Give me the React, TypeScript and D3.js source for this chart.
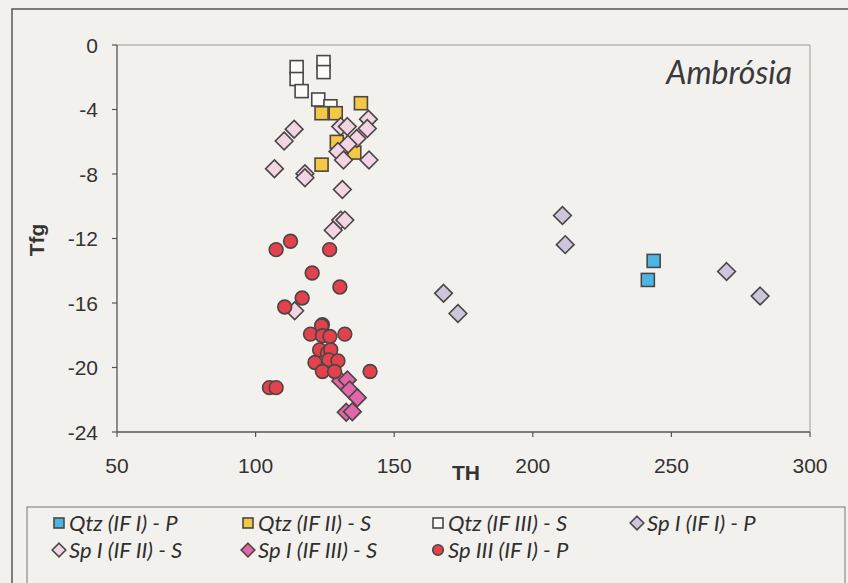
import React from "react";
import * as d3 from "d3";

const W = 848;
const H = 583;

const xTicks = [50, 100, 150, 200, 250, 300];
const yTicks = [0, -4, -8, -12, -16, -20, -24];

const qtzIFI_P: [number, number][] = [[243.6, -13.39], [241.5, -14.57]];
const qtzIFII_S: [number, number][] = [[123.8, -4.23], [128.9, -4.23], [138.0, -3.61], [129.3, -6.01], [135.6, -6.67], [123.8, -7.42]];
const qtzIFIII_S: [number, number][] = [[114.8, -1.37], [114.8, -2.11], [116.6, -2.86], [124.5, -1.06], [124.5, -1.68], [122.6, -3.38], [127.0, -3.8]];
const spIIFI_P: [number, number][] = [[210.7, -10.57], [211.7, -12.38], [167.8, -15.4], [173, -16.65], [269.9, -14.05], [282, -15.57]];
const spIIFII_S: [number, number][] = [[113.9, -5.22], [110.3, -5.95], [106.8, -7.67], [117.8, -7.98], [117.8, -8.23], [131.3, -8.96], [130.7, -5.06], [133.1, -5.06], [140.7, -4.6], [140.3, -5.18], [136.5, -5.8], [133.3, -6.16], [129.7, -6.61], [131.7, -7.13], [140.9, -7.13], [130.7, -10.86], [132.2, -10.86], [128, -11.49], [114.1, -16.48]];
const spIIFIII_S: [number, number][] = [[130.7, -20.83], [133.1, -20.77], [133.9, -21.39], [136.7, -21.87], [132.7, -22.78], [134.9, -22.74]];
const spIIIIFI_P: [number, number][] = [[107.4, -12.69], [112.6, -12.17], [126.7, -12.69], [120.4, -14.14], [130.4, -15.01], [116.8, -15.69], [110.5, -16.25], [124.1, -17.35], [123.8, -17.41], [119.8, -17.93], [124.1, -18.03], [126.8, -18.08], [132.2, -17.93], [123.1, -18.91], [125.9, -19.11], [127.1, -18.9], [121.4, -19.69], [126.4, -19.53], [129.7, -19.59], [124.1, -20.25], [128.5, -20.25], [141.3, -20.25], [105, -21.25], [107.4, -21.25]];

type Shape = "square" | "diamond" | "circle";
interface Series { name: string; data: [number, number][]; shape: Shape; color: string; }

const series: Series[] = [
  { name: "Qtz (IF I) - P", data: qtzIFI_P, shape: "square", color: "#4cb6e2" },
  { name: "Qtz (IF II) - S", data: qtzIFII_S, shape: "square", color: "#f3c843" },
  { name: "Qtz (IF III) - S", data: qtzIFIII_S, shape: "square", color: "#fbfbfa" },
  { name: "Sp I (IF I) - P", data: spIIFI_P, shape: "diamond", color: "#cec4dc" },
  { name: "Sp I (IF II) - S", data: spIIFII_S, shape: "diamond", color: "#f2d4e2" },
  { name: "Sp I (IF III) - S", data: spIIFIII_S, shape: "diamond", color: "#e266a8" },
  { name: "Sp III (IF I) - P", data: spIIIIFI_P, shape: "circle", color: "#e3424c" },
];
const drawOrder = [0, 2, 1, 3, 4, 5, 6];

const STROKE = "#4a4646";

function Marker({ shape, x, y, color, s }: { shape: Shape; x: number; y: number; color: string; s: number }) {
  if (shape === "square") {
    return <rect x={x - s / 2} y={y - s / 2} width={s} height={s} fill={color} stroke={STROKE} strokeWidth={1.6} />;
  }
  if (shape === "diamond") {
    const r = s * 0.68;
    return <path d={`M${x},${y - r}L${x + r},${y}L${x},${y + r}L${x - r},${y}Z`} fill={color} stroke={STROKE} strokeWidth={1.6} />;
  }
  return <circle cx={x} cy={y} r={s * 0.53} fill={color} stroke={STROKE} strokeWidth={1.6} />;
}

export default function App() {
  const left = 117, right = 810, top = 45, bottom = 432;
  const x = d3.scaleLinear().domain([50, 300]).range([left, right]);
  const y = d3.scaleLinear().domain([-24, 0]).range([bottom, top]);
  const tickFont = "'Liberation Sans Narrow', 'Liberation Sans', Arial, sans-serif";
  const legFont = "Lato, 'Open Sans', sans-serif";

  const legendCols = [59, 248, 438, 637];
  const legendRows = [523, 550];

  return (
    <svg width={W} height={H} style={{ position: "absolute", left: 0, top: 0 }}>
      <rect x={0} y={0} width={W} height={H} fill="#f3f1ee" />
      <rect x={12} y={9} width={W} height={H} fill="none" stroke="#555" strokeWidth={1.5} />
      <line x1={left} y1={top} x2={right} y2={top} stroke="#9a9a9a" strokeWidth={1} />
      <line x1={right} y1={top} x2={right} y2={bottom} stroke="#9a9a9a" strokeWidth={1} />
      <line x1={left} y1={top} x2={left} y2={bottom} stroke="#555" strokeWidth={1.3} />
      <line x1={left} y1={bottom} x2={right} y2={bottom} stroke="#555" strokeWidth={1.3} />
      {yTicks.map((t) => (
        <g key={"y" + t}>
          <line x1={left - 5} x2={left} y1={y(t)} y2={y(t)} stroke="#555" strokeWidth={1.2} />
          <text x={left - 19} y={y(t)} dy="0.36em" textAnchor="end" fontFamily={tickFont} fontSize={21} fill="#333">{t}</text>
        </g>
      ))}
      {xTicks.map((t) => (
        <g key={"x" + t}>
          <line x1={x(t)} x2={x(t)} y1={bottom} y2={bottom + 5} stroke="#555" strokeWidth={1.2} />
          <text x={x(t)} y={bottom + 41} textAnchor="middle" fontFamily={tickFont} fontSize={21} fill="#333">{t}</text>
        </g>
      ))}
      <text x={466} y={480} textAnchor="middle" fontFamily={tickFont} fontWeight="bold" fontSize={21} fill="#333">TH</text>
      <text transform={`translate(44,240) rotate(-90)`} textAnchor="middle" fontFamily={tickFont} fontWeight="bold" fontSize={21} fill="#333">Tfg</text>
      <text x={792} y={84} textAnchor="end" fontFamily={legFont} fontStyle="italic" fontSize={32} fill="#3a3a3a">Ambrósia</text>
      {drawOrder.map((i) => (
        <g key={"s" + i}>
          {series[i].data.map((d, j) => (
            <Marker key={j} shape={series[i].shape} x={x(d[0])} y={y(d[1])} color={series[i].color} s={13} />
          ))}
        </g>
      ))}
      <rect x={27} y={507} width={818} height={90} fill="#f3f1ee" stroke="#777" strokeWidth={1} />
      {series.map((s, i) => {
        const cx = legendCols[i % 4];
        const cy = legendRows[Math.floor(i / 4)];
        return (
          <g key={"l" + i}>
            <Marker shape={s.shape} x={cx} y={cy} color={s.color} s={10} />
            <text x={cx + 10} y={cy} dy="0.36em" fontFamily={legFont} fontStyle="italic" fontSize={22} fill="#2f2f2f">{s.name}</text>
          </g>
        );
      })}
    </svg>
  );
}
